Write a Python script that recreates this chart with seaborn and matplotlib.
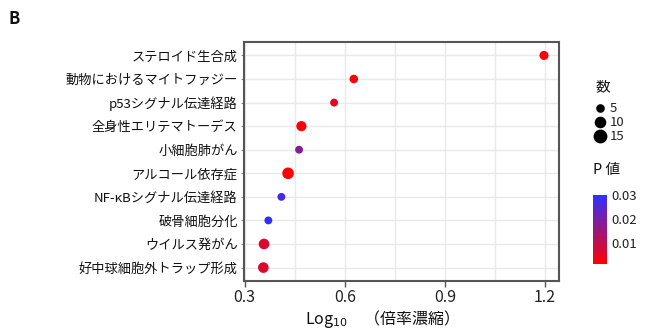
import matplotlib
matplotlib.use("Agg")
import matplotlib.pyplot as plt
import matplotlib.colors as mcolors
from matplotlib.lines import Line2D
from matplotlib.ticker import MultipleLocator
import seaborn as sns
import pandas as pd

pathways = ["ステロイド生合成", "動物におけるマイトファジー", "p53シグナル伝達経路",
            "全身性エリテマトーデス", "小細胞肺がん", "アルコール依存症",
            "NF-κBシグナル伝達経路", "破骨細胞分化", "ウイルス発がん",
            "好中球細胞外トラップ形成"]
log_enrich = [1.197, 0.627, 0.568, 0.470, 0.463, 0.430, 0.410, 0.371, 0.358, 0.356]
counts = [8, 7, 6, 10, 6, 13, 6, 6, 11, 11]
pvalues = [0.002, 0.002, 0.005, 0.002, 0.018, 0.001, 0.027, 0.030, 0.006, 0.006]
size_levels = [5, 10, 15]
p_ticks = [0.01, 0.02, 0.03]

sns.set_theme(style="white")
plt.rcParams['font.family'] = ['Noto Sans CJK JP', 'DejaVu Sans']

df = pd.DataFrame({"pathway": pathways, "x": log_enrich, "count": counts, "p": pvalues})

cmap = mcolors.LinearSegmentedColormap.from_list("rb", ["#ff0000", "#3030ff"])
vmin, vmax = 0.001, 0.03
smin, smax = 27, 80

fig = plt.figure(figsize=(6.5, 3.36), dpi=100)
ax = fig.add_axes([244/650, 1-281/336, (559-244)/650, (281-42)/336])

sns.scatterplot(data=df, x="x", y="pathway", hue="p", size="count",
                palette=cmap, hue_norm=(vmin, vmax),
                sizes=(smin, smax), size_norm=(5, 15),
                linewidth=0, legend=False, ax=ax, zorder=3)

ax.set_xlim(0.298, 1.242)
ax.set_ylim(len(pathways) - 0.43, -0.57)
ax.xaxis.set_minor_locator(MultipleLocator(0.15))
ax.set_xticks([0.3, 0.6, 0.9, 1.2])
ax.set_xticklabels(["0.3", "0.6", "0.9", "1.2"])
ax.grid(True, which="both", axis="x", color="#e9e9e9", linewidth=1, zorder=0)
ax.grid(True, which="major", axis="y", color="#e9e9e9", linewidth=1, zorder=0)
ax.set_axisbelow(True)
ax.tick_params(axis="x", which="major", bottom=True, length=4, width=1,
               color="#555555", labelsize=11.5, labelcolor="#222222", pad=2)
ax.tick_params(axis="x", which="minor", bottom=False)
ax.tick_params(axis="y", left=True, length=2.5, width=0.8, color="#888888",
               labelsize=9.5, labelcolor="#111111", pad=2)
for s in ax.spines.values():
    s.set_color("#555555")
    s.set_linewidth(1.5)

ax.set_ylabel("")
ax.set_xlabel("Log$_{10}$\u3000（倍率濃縮）", fontsize=11.5, color="#111111")
ax.xaxis.set_label_coords((377-244)/(559-244), -0.115)

fig.text(8/650, 1-19/336, "B", fontsize=12, fontweight="bold", va="center", ha="left",
         color="#111111")

# size legend
fig.text(603/650, 1-87/336, "数", fontsize=10.5, ha="center", va="center", color="#111111")
ypos = [108, 122, 136]
for lvl, yp in zip(size_levels, ypos):
    s = smin + (lvl - 5) / 10 * (smax - smin)
    fig.lines.append(Line2D([600/650], [1-yp/336], marker="o", markersize=s**0.5,
                            color="black", linestyle="none", transform=fig.transFigure))
    fig.text(610/650, 1-yp/336, str(lvl), fontsize=9.5, ha="left", va="center",
             color="#222222")

# colorbar
fig.text(607/650, 1-170/336, "P 値", fontsize=10.5, ha="center", va="center",
         color="#111111")
cax = fig.add_axes([593/650, 1-264/336, 14/650, 69/336])
sm = plt.cm.ScalarMappable(cmap=cmap, norm=mcolors.Normalize(vmin, vmax))
cb = fig.colorbar(sm, cax=cax, ticks=p_ticks)
cb.outline.set_visible(False)
cb.ax.tick_params(length=0, labelsize=9.5, labelcolor="#222222", pad=3)
cb.ax.set_yticklabels(["0.01", "0.02", "0.03"])

fig.savefig("out.png", dpi=100)
